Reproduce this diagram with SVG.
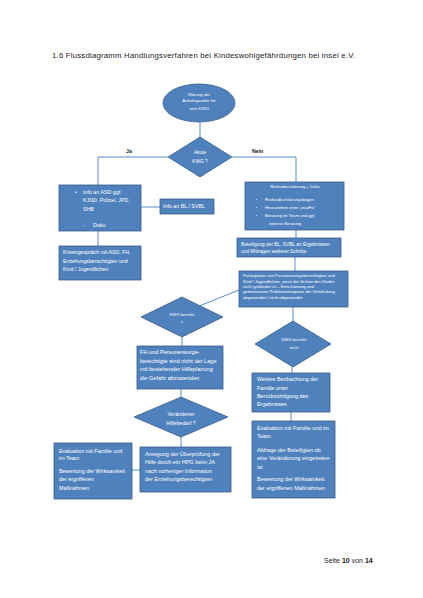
<svg xmlns="http://www.w3.org/2000/svg" width="423" height="598" viewBox="0 0 423 598">
<style>
.bg{fill:#ffffff}
.box{fill:#4F81BD;stroke:#385D8A;stroke-width:0.8}
.ln{fill:none;stroke:#4A7EBB;stroke-width:0.9}
.t{font-family:"Liberation Sans",Arial,sans-serif;fill:#ffffff}
.c{text-anchor:middle}
.h{font-family:"Liberation Sans",Arial,sans-serif;fill:#1a1a1a}
</style>
<rect class="bg" x="0" y="0" width="423" height="598"/>
<text class="h" x="52" y="57.5" font-size="7.8" textLength="303" lengthAdjust="spacing">1.6 Flussdiagramm Handlungsverfahren bei Kindeswohlgefährdungen bei insel e.V.</text>

<g id="connectors">
<line class="ln" x1="200" y1="122" x2="200" y2="137"/>
<polyline class="ln" points="168,157 98,157 98,185"/>
<polyline class="ln" points="232,157 296,157 296,182"/>
<line class="ln" x1="141" y1="207" x2="160" y2="207"/>
<line class="ln" x1="98" y1="231" x2="98" y2="246"/>
<line class="ln" x1="296" y1="230" x2="296" y2="238"/>
<line class="ln" x1="295" y1="257" x2="295" y2="271"/>
<line class="ln" x1="239" y1="290" x2="200" y2="305.7"/>
<line class="ln" x1="293" y1="307" x2="293" y2="321"/>
<line class="ln" x1="292" y1="367" x2="292" y2="373"/>
<line class="ln" x1="291" y1="412" x2="291" y2="421"/>
<line class="ln" x1="182" y1="337" x2="182" y2="346"/>
<line class="ln" x1="181" y1="389" x2="181" y2="397"/>
<line class="ln" x1="181" y1="437" x2="181" y2="447"/>
<line class="ln" x1="140" y1="470" x2="132" y2="470"/>
</g>

<g id="labels">
<text class="h" x="126" y="152.5" font-size="5.2" font-weight="bold">Ja</text>
<text class="h" x="252" y="152.5" font-size="5.2" font-weight="bold">Nein</text>
</g>

<g id="start">
<ellipse class="box" cx="199" cy="103" rx="36" ry="19"/>
<g class="t c" font-size="4.3">
<text x="199" y="95.5">Klärung der</text>
<text x="199" y="102">Anhaltspunkte für</text>
<text x="199" y="109.5">eine KWG</text>
</g>
</g>

<g id="akute">
<polygon class="box" points="200,137 232,157 200,177 168,157"/>
<g class="t c" font-size="4.8">
<text x="200" y="154">Akute</text>
<text x="200" y="162.5">KWG ?</text>
</g>
</g>

<g id="info-asd">
<rect class="box" x="59" y="185" width="82" height="46"/>
<g class="t" font-size="5.3">
<text x="75" y="194">•</text>
<text x="83" y="194">Info an ASD ggf.</text>
<text x="83" y="202">KJND, Polizei, JPD,</text>
<text x="83" y="210.5">SHB</text>
<text x="83" y="227">-</text>
<text x="93" y="227">Doku</text>
</g>
</g>

<g id="info-bl">
<rect class="box" x="160" y="199" width="54" height="15"/>
<text class="t" x="163" y="208" font-size="5.3">Info an BL / SVBL</text>
</g>

<g id="krise">
<rect class="box" x="59" y="246" width="82" height="34"/>
<g class="t" font-size="5.2">
<text x="63" y="254">Krisengespräch mit ASD, FH,</text>
<text x="63" y="262.5">Erziehungsberechtigten und</text>
<text x="63" y="271">Kind / Jugendlichen</text>
</g>
</g>

<g id="risiko">
<rect class="box" x="245" y="182" width="99" height="48"/>
<g class="t" font-size="4.2">
<text class="c" x="295" y="188">Risikoabschätzung + Doku</text>
<text x="255.5" y="201">•</text>
<text x="265" y="201">Risikoabschätzungsbögen</text>
<text x="255.5" y="208.5">•</text>
<text x="265" y="208.5">Hinzuziehen einer „insoFa“</text>
<text x="255.5" y="216.5">•</text>
<text x="265" y="216.5">Beratung im Team und ggf.</text>
<text x="269" y="224.5">externe Beratung</text>
</g>
</g>

<g id="beteiligung">
<rect class="box" x="237" y="238" width="104" height="19"/>
<g class="t" font-size="4.8">
<text x="241" y="245.5">Beteiligung der BL, SVBL an Ergebnissen</text>
<text x="241" y="253.3">und Mittragen weiterer Schritte</text>
</g>
</g>

<g id="partizipation">
<rect class="box" x="239" y="271" width="109" height="36"/>
<g class="t" font-size="4.2">
<text x="243" y="277.3">Partizipation von Personensorgeberechtigten und</text>
<text x="243" y="282.6">Kind / Jugendlichen, wenn der Schutz des Kindes</text>
<text x="243" y="288">nicht gefährdet ist – Einschätzung und</text>
<text x="243" y="293.4">gemeinsamer Problemakzeptanz der Gefährdung</text>
<text x="243" y="298.8">abgewendet / nicht abgewendet</text>
</g>
</g>

<g id="kwg-besteht">
<polygon class="box" points="182,297 223,317 182,337 141,317"/>
<g class="t c" font-size="4.2">
<text x="182" y="315.5">KWG besteht</text>
<text x="182" y="323.5">?</text>
</g>
</g>

<g id="kwg-besteht-nicht">
<polygon class="box" points="293,321 331,344 293,367 255,344"/>
<g class="t c" font-size="4.2">
<text x="294" y="340.5">KWG besteht</text>
<text x="294" y="349">nicht</text>
</g>
</g>

<g id="fh-gefahr">
<rect class="box" x="137" y="346" width="86" height="43"/>
<g class="t" font-size="5.6">
<text x="140" y="354.3">FH und Personensorge-</text>
<text x="140" y="362.8">berechtigte sind nicht der Lage</text>
<text x="140" y="371.2">mit bestehender Hilfeplanung</text>
<text x="140" y="379.5">die Gefahr abzuwenden</text>
</g>
</g>

<g id="hilfebedarf">
<polygon class="box" points="181,397 228,417 181,437 134,417"/>
<g class="t c" font-size="5.2">
<text x="181" y="415.5">Veränderter</text>
<text x="181" y="425">Hilfebedarf ?</text>
</g>
</g>

<g id="anregung">
<rect class="box" x="140" y="447" width="91" height="45"/>
<g class="t" font-size="5.5">
<text x="145" y="455.7">Anregung der Überprüfung der</text>
<text x="145" y="464.2">Hilfe durch ein HPG beim JA</text>
<text x="145" y="472.7">nach vorheriger Information</text>
<text x="145" y="481.2">der Erziehungsberechtigten</text>
</g>
</g>

<g id="evaluation-links">
<rect class="box" x="54" y="443" width="78" height="56"/>
<g class="t" font-size="5.4">
<text x="59" y="452.5">Evaluation mit Familie und</text>
<text x="59" y="460.3">im Team</text>
<text x="59" y="472.7">Bewertung der Wirksamkeit</text>
<text x="59" y="481.2">der ergriffenen</text>
<text x="59" y="490.2">Maßnahmen</text>
</g>
</g>

<g id="beobachtung">
<rect class="box" x="252" y="373" width="78" height="39"/>
<g class="t" font-size="5.4">
<text x="257" y="381.2">Weitere Beobachtung der</text>
<text x="257" y="390.2">Familie unter</text>
<text x="257" y="398">Berücksichtigung des</text>
<text x="257" y="406">Ergebnisses</text>
</g>
</g>

<g id="evaluation-rechts">
<rect class="box" x="252" y="421" width="83" height="77"/>
<g class="t" font-size="5.5">
<text x="257" y="429.6">Evaluation mit Familie und im</text>
<text x="257" y="437.9">Team:</text>
<text x="257" y="451.9">Abfrage der Beteiligten ob</text>
<text x="257" y="460.2">eine Veränderung eingetreten</text>
<text x="257" y="468.6">ist</text>
<text x="257" y="481.2">Bewertung der Wirksamkeit</text>
<text x="257" y="489.6">der ergriffenen Maßnahmen</text>
</g>
</g>

<text class="h" x="324" y="562.5" font-size="7">Seite <tspan font-weight="bold">10</tspan> von <tspan font-weight="bold">14</tspan></text>
</svg>
